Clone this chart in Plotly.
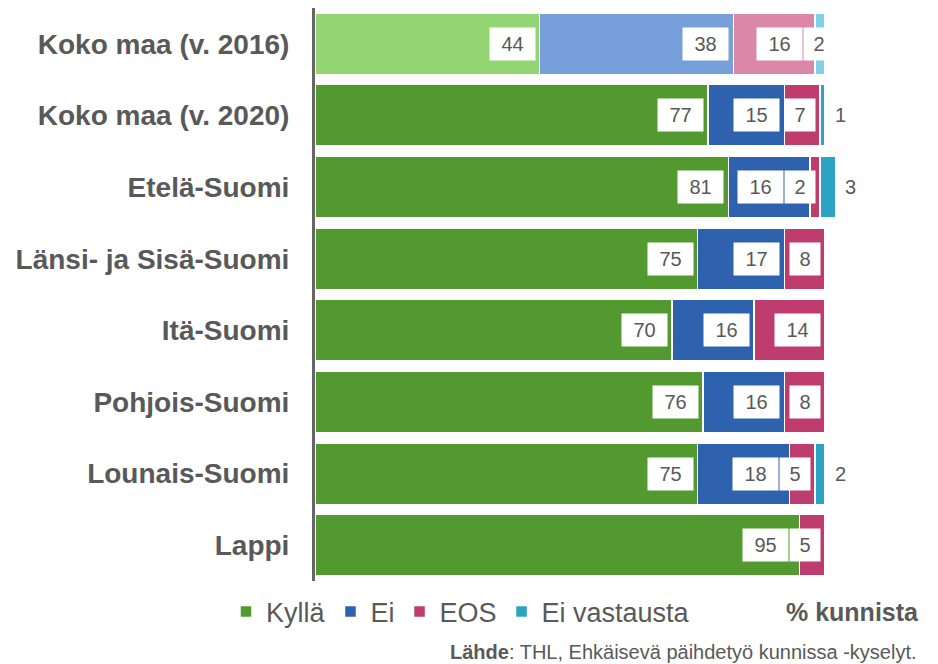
import plotly.graph_objects as go

# Data
alueet = ["Koko maa (v. 2016)", "Koko maa (v. 2020)", "Etelä-Suomi",
          "Länsi- ja Sisä-Suomi", "Itä-Suomi", "Pohjois-Suomi",
          "Lounais-Suomi", "Lappi"]
kylla = [44, 77, 81, 75, 70, 76, 75, 95]
ei = [38, 15, 16, 17, 16, 16, 18, 0]
eos = [16, 7, 2, 8, 14, 8, 5, 5]
ei_vastausta = [2, 1, 3, 0, 0, 0, 2, 0]

sarjat = ["Kyllä", "Ei", "EOS", "Ei vastausta"]
arvot = [kylla, ei, eos, ei_vastausta]
varit = ["#529A2F", "#2E62AE", "#BE3C6E", "#2AA3C4"]
varit_2016 = ["#93D572", "#77A0DA", "#DB88A8", "#7ED0E5"]

# layout constants (pixels); the page body adds an 8px offset
OFF = 8
W_FIG, H_FIG = 938 - OFF, 664 - OFF
L, R, T, B = 315 - OFF, 100, 0, 83
X_MAX = 102.5
PW, PH = W_FIG - L - R, H_FIG - T - B
PX = PW / X_MAX
FONT = "Liberation Sans, Arial"


def px_x(x):
    return (x - OFF - L) / PW


def px_y(y):
    return (H_FIG - B - (y - OFF)) / PH


fig = go.Figure()

# vuoden 2016 rivi vaaleammilla väreillä
for nimi, vals, c in zip(sarjat, arvot, varit_2016):
    fig.add_trace(go.Bar(
        y=[alueet[0]], x=[vals[0]], orientation="h",
        marker=dict(color=c, line=dict(color="white", width=1.5)),
        showlegend=False, hoverinfo="skip", legendgroup=nimi
    ))

for nimi, vals, c in zip(sarjat, arvot, varit):
    fig.add_trace(go.Bar(
        y=alueet[1:], x=vals[1:], orientation="h", name=nimi,
        marker=dict(color=c, line=dict(color="white", width=1.5)),
        legendgroup=nimi
    ))

# Arvolaatikot
annotations = []
for i, alue in enumerate(alueet):
    ends = []
    total = 0
    for vals in arvot:
        total += vals[i]
        ends.append(total)
    next_left = None
    for s in range(len(arvot) - 1, -1, -1):
        v = arvot[s][i]
        if v == 0:
            continue
        end = ends[s]
        if s == 3 and i > 0:
            annotations.append(dict(
                x=end, y=alue, xref="x", yref="y", text=str(v),
                showarrow=False, xanchor="left", xshift=8,
                font=dict(family=FONT, size=20, color="#595959")))
            continue
        w = 45 if v >= 10 else 30
        right_px = end * PX - 4
        if s == 3:
            right_px = end * PX + 10
        if next_left is not None and right_px > next_left - 2:
            right_px = next_left - 2
        next_left = right_px - w
        annotations.append(dict(
            x=right_px / PX, y=alue, xref="x", yref="y", text=str(v),
            showarrow=False, xanchor="right", width=w - 8, height=24,
            borderpad=4, bgcolor="white", align="center",
            font=dict(family=FONT, size=20, color="#595959")))

annotations.append(dict(
    x=px_x(921), y=px_y(612), xref="paper", yref="paper",
    text="<b>% kunnista</b>", showarrow=False, xanchor="right", yanchor="middle",
    font=dict(family=FONT, size=25, color="#595959")))
annotations.append(dict(
    x=px_x(919), y=px_y(652), xref="paper", yref="paper",
    text="<b>Lähde</b>: THL, Ehkäisevä päihdetyö kunnissa -kyselyt.",
    showarrow=False, xanchor="right", yanchor="middle",
    font=dict(family=FONT, size=20, color="#595959")))

fig.update_layout(
    barmode="stack",
    bargap=0.14,
    width=W_FIG, height=H_FIG,
    margin=dict(l=L, r=R, t=T, b=B, autoexpand=False),
    plot_bgcolor="white", paper_bgcolor="white",
    font=dict(family=FONT, color="#595959"),
    xaxis=dict(range=[0, X_MAX], visible=False, fixedrange=True),
    yaxis=dict(
        autorange="reversed", showline=True, linecolor="#666666", linewidth=3,
        showgrid=False, zeroline=False, ticks="", ticklabelstandoff=17,
        automargin=False,
        tickfont=dict(family=FONT, size=28, color="#595959", weight="bold"),
    ),
    legend=dict(
        orientation="h", x=px_x(226), y=px_y(612),
        xanchor="left", yanchor="middle",
        font=dict(family=FONT, size=27, color="#595959"),
        bgcolor="rgba(0,0,0,0)", traceorder="normal"
    ),
    annotations=annotations,
)

fig.write_html("out.html")
